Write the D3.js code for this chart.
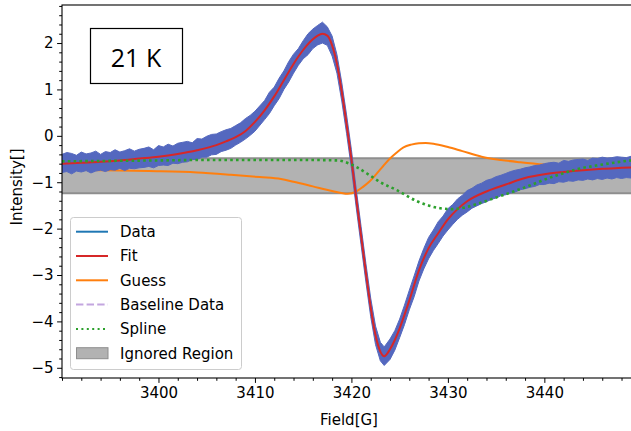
<!DOCTYPE html>
<html>
<head>
<meta charset="utf-8">
<script src="https://cdn.jsdelivr.net/npm/d3@7"></script>
<style>
  body { margin: 0; background: #fff; }
  svg { display: block; font-family: "DejaVu Sans", sans-serif; }
</style>
</head>
<body>
<svg id="chart" width="631" height="431"></svg>
<script>
// values
var fitField = [3390, 3392, 3394, 3396, 3398, 3400, 3402, 3404, 3406, 3407, 3408, 3409, 3410, 3411, 3412, 3413, 3414, 3415, 3416, 3416.5, 3417, 3417.5, 3418, 3418.5, 3419, 3419.5, 3420, 3420.5, 3421, 3421.5, 3422, 3422.5, 3423, 3423.4, 3424, 3424.5, 3425, 3426, 3427, 3428, 3429, 3430, 3431, 3432, 3434, 3436, 3438, 3440, 3442, 3444, 3446, 3448, 3450];
var fitValue = [-0.60, -0.58, -0.56, -0.53, -0.49, -0.45, -0.39, -0.31, -0.20, -0.12, -0.03, 0.10, 0.30, 0.55, 0.85, 1.20, 1.55, 1.85, 2.08, 2.16, 2.20, 2.16, 1.95, 1.55, 0.95, 0.25, -0.50, -1.35, -2.15, -2.95, -3.70, -4.30, -4.65, -4.75, -4.60, -4.40, -4.15, -3.55, -2.90, -2.42, -2.10, -1.80, -1.58, -1.41, -1.20, -1.05, -0.91, -0.83, -0.78, -0.74, -0.71, -0.69, -0.67];

// upper and lower edge of the noisy data trace
var dataField = [3390, 3390.5, 3391, 3391.5, 3392, 3392.5, 3393, 3393.5, 3394, 3394.5, 3395, 3395.5, 3396, 3396.5, 3397, 3397.5, 3398, 3398.5, 3399, 3399.5,
  3400, 3400.5, 3401, 3401.5, 3402, 3402.5, 3403, 3403.5, 3404, 3404.5, 3405, 3405.5, 3406, 3406.5, 3407, 3407.5, 3408, 3408.5, 3409, 3409.5,
  3410, 3411, 3411.5, 3412, 3412.5, 3413, 3413.5, 3414, 3414.5, 3415, 3415.5, 3416, 3416.5, 3417, 3417.5, 3418, 3418.5, 3419, 3419.5,
  3420, 3420.5, 3421, 3421.5, 3422, 3422.5, 3423, 3423.4, 3424, 3424.5, 3425, 3425.5,
  3426, 3426.5, 3427, 3427.5, 3428, 3428.5, 3429, 3429.5, 3430, 3430.5, 3431, 3431.5, 3432, 3432.5, 3433, 3433.5, 3434, 3434.5, 3435, 3435.5,
  3436, 3436.5, 3437, 3437.5, 3438, 3438.5, 3439, 3439.5, 3440, 3440.5, 3441, 3441.5, 3442, 3442.5, 3443, 3443.5, 3444, 3444.5, 3445, 3445.5,
  3446, 3446.5, 3447, 3447.5, 3448, 3448.5, 3449, 3449.5, 3450];
var dataHigh = [-0.40, -0.36, -0.38, -0.42, -0.35, -0.39, -0.37, -0.33, -0.40, -0.34, -0.36, -0.30, -0.35, -0.32, -0.28, -0.33, -0.29, -0.27, -0.24, -0.30,
  -0.21, -0.24, -0.18, -0.22, -0.16, -0.14, -0.12, -0.15, -0.06, -0.07, -0.01, 0.03, 0.04, 0.09, 0.13, 0.16, 0.22, 0.28, 0.37, 0.44,
  0.53, 0.76, 0.94, 1.05, 1.24, 1.40, 1.60, 1.76, 1.88, 2.05, 2.20, 2.30, 2.38, 2.45, 2.35, 2.15, 1.75, 1.15, 0.45,
  -0.30, -1.15, -1.95, -2.75, -3.50, -4.10, -4.45, -4.55, -4.38, -4.20, -3.95, -3.65,
  -3.33, -3.02, -2.70, -2.43, -2.19, -2.03, -1.85, -1.73, -1.57, -1.48, -1.36, -1.28, -1.18, -1.13, -1.06, -1.02, -0.96, -0.93, -0.88, -0.85,
  -0.81, -0.77, -0.74, -0.72, -0.69, -0.67, -0.64, -0.63, -0.60, -0.58, -0.57, -0.59, -0.53, -0.55, -0.52, -0.51, -0.50, -0.53, -0.48, -0.49,
  -0.46, -0.48, -0.47, -0.45, -0.46, -0.47, -0.44, -0.46, -0.45];
var dataLow = [-0.79, -0.77, -0.82, -0.76, -0.78, -0.75, -0.80, -0.76, -0.74, -0.77, -0.73, -0.74, -0.70, -0.75, -0.70, -0.71, -0.69, -0.68, -0.66, -0.69,
  -0.64, -0.63, -0.64, -0.59, -0.60, -0.57, -0.56, -0.51, -0.51, -0.46, -0.46, -0.41, -0.40, -0.34, -0.31, -0.27, -0.20, -0.14, -0.07, 0.01,
  0.10, 0.35, 0.48, 0.65, 0.80, 1.00, 1.16, 1.35, 1.52, 1.66, 1.75, 1.88, 1.96, 2.00, 1.95, 1.72, 1.35, 0.75, 0.05,
  -0.70, -1.55, -2.35, -3.15, -3.90, -4.50, -4.85, -4.95, -4.82, -4.62, -4.35, -4.07,
  -3.75, -3.47, -3.13, -2.87, -2.65, -2.47, -2.32, -2.16, -2.03, -1.91, -1.80, -1.71, -1.64, -1.56, -1.51, -1.46, -1.42, -1.37, -1.34, -1.29,
  -1.27, -1.23, -1.21, -1.16, -1.14, -1.11, -1.09, -1.05, -1.05, -1.02, -1.03, -0.99, -1.00, -0.97, -0.98, -0.95, -0.96, -0.93, -0.95, -0.92,
  -0.94, -0.91, -0.93, -0.90, -0.92, -0.90, -0.91, -0.89, -0.90];

var guessField = [3390, 3394, 3399, 3404, 3407.5, 3410.5, 3412.7, 3414, 3416, 3418, 3419.6, 3420.5, 3421.2, 3421.9, 3422.6, 3423.3, 3424, 3424.7, 3425.4, 3426.2, 3427, 3427.7, 3428.5, 3430, 3431.5, 3433.5, 3435.5, 3437.5, 3440, 3445, 3450];
var guessValue = [-0.73, -0.74, -0.76, -0.79, -0.84, -0.89, -0.93, -0.99, -1.09, -1.19, -1.25, -1.20, -1.10, -0.98, -0.82, -0.65, -0.49, -0.36, -0.25, -0.19, -0.16, -0.155, -0.17, -0.24, -0.33, -0.45, -0.52, -0.57, -0.62, -0.66, -0.68];

var splineField = [3390, 3395, 3400, 3405, 3410, 3415, 3418.5, 3419.8, 3420.5, 3421.9, 3423, 3424.7, 3426.8, 3427.4, 3429.2, 3430.5, 3431.6, 3433, 3435, 3436.8, 3438.5, 3440.2, 3441.9, 3443.6, 3445.4, 3447.2, 3449, 3450];
var splineValue = [-0.55, -0.54, -0.53, -0.52, -0.52, -0.52, -0.53, -0.60, -0.67, -0.85, -1.00, -1.17, -1.41, -1.46, -1.56, -1.58, -1.55, -1.47, -1.33, -1.20, -1.07, -0.93, -0.81, -0.71, -0.64, -0.58, -0.53, -0.52];

var ignoredBand = [-1.24, -0.485];

var xTicks = [3400, 3410, 3420, 3430, 3440];
var yTicks = [-5, -4, -3, -2, -1, 0, 1, 2];
var legendNames = ['Data', 'Fit', 'Guess', 'Baseline Data', 'Spline', 'Ignored Region'];
var tempLabel = '21 K';

var svg = d3.select('#chart');
var plotLeft = 62, plotRight = 636, plotTop = 5, plotBottom = 378;
var fontSize = '15px';

var x = d3.scaleLinear().domain([3390, 3449.5]).range([plotLeft, plotRight]);
var y = d3.scaleLinear().domain([-5.22, 2.82]).range([plotBottom, plotTop]);

svg.append('clipPath').attr('id', 'plot-clip')
  .append('rect')
  .attr('x', plotLeft).attr('y', plotTop)
  .attr('width', plotRight - plotLeft).attr('height', plotBottom - plotTop);

var plot = svg.append('g').attr('clip-path', 'url(#plot-clip)');

function zip (fields, values) {
  return fields.map(function (f, i) {return {f: f, v: values[i]};});
}

var line = d3.line()
  .x(function (d) {return x(d.f);})
  .y(function (d) {return y(d.v);})
  .curve(d3.curveMonotoneX);

// ignored region, full width
plot.append('rect')
  .attr('x', x(3390)).attr('y', y(ignoredBand[1]))
  .attr('width', x(3449.5) - x(3390))
  .attr('height', y(ignoredBand[0]) - y(ignoredBand[1]))
  .attr('fill', '#b2b2b2');
ignoredBand.forEach(function (v) {
  plot.append('line')
    .attr('x1', x(3390)).attr('x2', x(3449.5))
    .attr('y1', y(v)).attr('y2', y(v))
    .attr('stroke', '#8e8e8e').attr('stroke-width', 2);
});

plot.append('path')
  .datum(zip(guessField, guessValue))
  .attr('d', line)
  .attr('fill', 'none').attr('stroke', '#ff7f0e').attr('stroke-width', 2);

// noisy data drawn as its envelope
var band = dataField.map(function (f, i) {return {f: f, hi: dataHigh[i], lo: dataLow[i]};});
plot.append('path')
  .datum(band)
  .attr('d', d3.area()
    .x(function (d) {return x(d.f);})
    .y0(function (d) {return y(d.lo);})
    .y1(function (d) {return y(d.hi);}))
  .attr('fill', '#5468bf').attr('stroke', '#5468bf').attr('stroke-width', 1);

plot.append('path')
  .datum(zip(fitField, fitValue))
  .attr('d', line)
  .attr('fill', 'none').attr('stroke', '#d62728').attr('stroke-width', 2);

plot.append('path')
  .datum(zip(splineField, splineValue))
  .attr('d', line)
  .attr('fill', 'none').attr('stroke', '#2ca02c').attr('stroke-width', 2.6)
  .attr('stroke-dasharray', '2.6,3.2');

// axes
var xMinor = d3.range(3390, 3450, 2).filter(function (v) {return xTicks.indexOf(v) < 0;});
var yMinor = d3.range(-52, 29, 2).map(function (v) {return v / 10;}).filter(function (v) {return v % 1 !== 0;});

function styleAxis (g) {
  g.select('.domain').remove();
  g.selectAll('line').attr('stroke', '#000').attr('stroke-width', 1);
  g.selectAll('text').attr('fill', '#000').attr('font-size', fontSize)
    .attr('font-family', '"DejaVu Sans", sans-serif');
}

svg.append('g').attr('transform', 'translate(0,' + plotBottom + ')')
  .call(d3.axisBottom(x).tickValues(xTicks).tickSize(4.9).tickPadding(4.5).tickFormat(d3.format('d')))
  .call(styleAxis);
svg.append('g').attr('transform', 'translate(0,' + plotBottom + ')')
  .call(d3.axisBottom(x).tickValues(xMinor).tickSize(2.8).tickFormat(''))
  .call(styleAxis);
svg.append('g').attr('transform', 'translate(' + plotLeft + ',0)')
  .call(d3.axisLeft(y).tickValues(yTicks).tickSize(4.9).tickPadding(3.6).tickFormat(d3.format('d')))
  .call(styleAxis);
svg.append('g').attr('transform', 'translate(' + plotLeft + ',0)')
  .call(d3.axisLeft(y).tickValues(yMinor).tickSize(2.8).tickFormat(''))
  .call(styleAxis);

svg.append('rect')
  .attr('x', plotLeft).attr('y', plotTop)
  .attr('width', plotRight - plotLeft).attr('height', plotBottom - plotTop)
  .attr('fill', 'none').attr('stroke', '#000').attr('stroke-width', 1.1);

svg.append('text')
  .attr('x', (plotLeft + plotRight) / 2).attr('y', 425)
  .attr('text-anchor', 'middle').attr('font-size', fontSize)
  .text('Field[G]');
svg.append('text')
  .attr('transform', 'translate(22,187) rotate(-90)')
  .attr('text-anchor', 'middle').attr('font-size', fontSize)
  .text('Intensity[]');

// temperature box
svg.append('rect')
  .attr('x', 90.5).attr('y', 28.5).attr('width', 92).attr('height', 55)
  .attr('fill', '#fff').attr('stroke', '#000').attr('stroke-width', 1.2);
svg.append('text')
  .attr('x', 136).attr('y', 67)
  .attr('text-anchor', 'middle')
  .attr('font-family', '"Open Sans", sans-serif').attr('font-size', '25px')
  .text(tempLabel);

// legend
var legend = svg.append('g');
legend.append('rect')
  .attr('x', 70.5).attr('y', 217.5).attr('width', 171).attr('height', 152).attr('rx', 3)
  .attr('fill', '#fff').attr('fill-opacity', 0.8).attr('stroke', '#cccccc');

var handleStyles = [
  {stroke: '#1f77b4'},
  {stroke: '#d62728'},
  {stroke: '#ff7f0e'},
  {stroke: '#c3a6df', dash: '7.4,3.2'},
  {stroke: '#2ca02c', dash: '2,3.4'},
  {patch: true}
];

legendNames.forEach(function (name, i) {
  var cy = 231.7 + i * 24.3;
  var s = handleStyles[i];
  if (s.patch) {
    legend.append('rect')
      .attr('x', 76.5).attr('y', cy - 5.5).attr('width', 31.5).attr('height', 11)
      .attr('fill', '#b2b2b2').attr('stroke', '#8e8e8e').attr('stroke-width', 1);
  } else {
    legend.append('line')
      .attr('x1', 76).attr('x2', 108).attr('y1', cy).attr('y2', cy)
      .attr('stroke', s.stroke).attr('stroke-width', 2)
      .attr('stroke-dasharray', s.dash || null);
  }
  legend.append('text')
    .attr('x', 120).attr('y', cy + 5.4)
    .attr('font-size', fontSize)
    .text(name);
});
</script>
</body>
</html>
